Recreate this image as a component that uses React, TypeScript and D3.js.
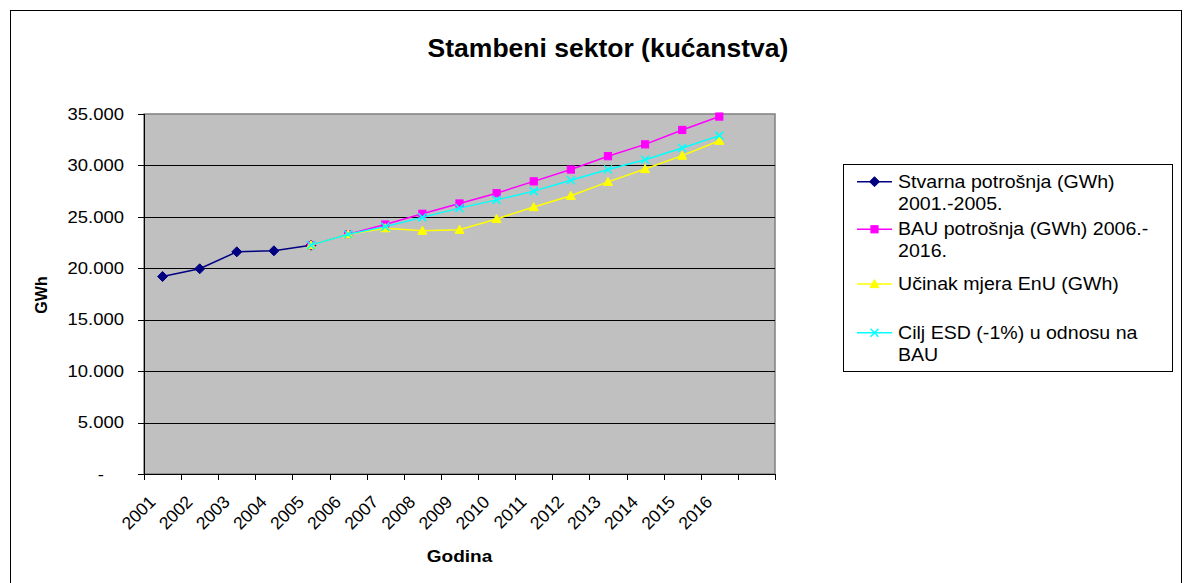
import React from 'react';
import * as d3 from 'd3';

const categories = ['2001','2002','2003','2004','2005','2006','2007','2008','2009','2010','2011','2012','2013','2014','2015','2016',''];
const stvarna = [19200, 19950, 21600, 21700, 22250, null, null, null, null, null, null, null, null, null, null, null, null];
const bau = [null, null, null, null, 22250, 23300, 24250, 25300, 26300, 27300, 28450, 29600, 30900, 32050, 33450, 34750, null];
const ucinak = [null, null, null, null, 22250, 23300, 23900, 23650, 23750, 24800, 25950, 27050, 28400, 29650, 30950, 32400, null];
const cilj = [null, null, null, null, 22250, 23300, 24050, 24950, 25850, 26650, 27500, 28550, 29600, 30550, 31700, 32900, null];
const yTicks = [0, 5000, 10000, 15000, 20000, 25000, 30000, 35000];
const yTickLabels = ['-', '5.000', '10.000', '15.000', '20.000', '25.000', '30.000', '35.000'];
const seriesNames = [
  ['Stvarna potrošnja (GWh)', '2001.-2005.'],
  ['BAU potrošnja (GWh) 2006.-', '2016.'],
  ['Učinak mjera EnU (GWh)'],
  ['Cilj ESD (-1%) u odnosu na', 'BAU'],
];

const FONT = '"Liberation Sans", Arial, sans-serif';
const SX = 1.12;

function marker(kind: string, color: string, cx: number, cy: number, key: string) {
  if (kind === 'diamond') {
    const r = 5;
    return <path key={key} d={`M${cx},${cy - r}L${cx + r},${cy}L${cx},${cy + r}L${cx - r},${cy}Z`} fill={color} stroke={color} strokeWidth={1} />;
  }
  if (kind === 'square') {
    const r = 3.6;
    return <rect key={key} x={cx - r} y={cy - r} width={2 * r} height={2 * r} fill={color} stroke={color} strokeWidth={1} />;
  }
  if (kind === 'triangle') {
    const r = 4.5;
    return <path key={key} d={`M${cx},${cy - r}L${cx + r},${cy + r * 0.8}L${cx - r},${cy + r * 0.8}Z`} fill={color} stroke={color} strokeWidth={1} />;
  }
  const r = 4;
  return <path key={key} d={`M${cx - r},${cy - r}L${cx + r},${cy + r}M${cx - r},${cy + r}L${cx + r},${cy - r}`} fill="none" stroke={color} strokeWidth={1.5} />;
}

export default function App() {
  const left = 144, right = 775, top = 114, bottom = 474;
  const x = d3.scaleBand<number>().domain(categories.map((_, i) => i)).range([left, right]).paddingInner(0).paddingOuter(0);
  const y = d3.scaleLinear().domain([0, 35000]).range([bottom, top]);
  const cx = (i: number) => (x(i) as number) + x.bandwidth() / 2;

  const series = [
    { data: stvarna, color: '#000080', kind: 'diamond' },
    { data: bau, color: '#FF00FF', kind: 'square' },
    { data: ucinak, color: '#FFFF00', kind: 'triangle' },
    { data: cilj, color: '#00FFFF', kind: 'x' },
  ];

  const line = d3.line<number | null>()
    .defined((d) => d != null)
    .x((_, i) => cx(i))
    .y((d) => y(d as number));

  const boundaries = categories.map((_, i) => x(i) as number).concat([right]);

  const legendX = 843, legendY = 164, legendW = 329, legendH = 207;
  const legendRows = [181.7, 229.3, 284, 332.7];

  return (
    <svg width={1192} height={583} style={{ position: 'absolute', left: 0, top: 0, fontFamily: FONT }}>
      <rect x={0} y={0} width={1192} height={583} fill="#ffffff" />
      <rect x={10.5} y={10.5} width={1171} height={620} fill="none" stroke="#000" strokeWidth={1} />
      <text x={608} y={57} textAnchor="middle" fontSize={26.5} fontWeight="bold" fill="#000">Stambeni sektor (kućanstva)</text>

      {/* plot area */}
      <rect x={left} y={top} width={right - left} height={bottom - top} fill="#C0C0C0" stroke="#808080" strokeWidth={1.5} />
      {yTicks.filter((t) => t > 0 && t < 35000).map((t) => (
        <line key={'g' + t} x1={left} x2={right} y1={Math.round(y(t)) + 0.5} y2={Math.round(y(t)) + 0.5} stroke="#000" strokeWidth={1} />
      ))}
      {/* axes */}
      <line x1={left + 0.5} x2={left + 0.5} y1={top} y2={bottom} stroke="#000" strokeWidth={1} />
      <line x1={left} x2={right} y1={bottom + 0.5} y2={bottom + 0.5} stroke="#000" strokeWidth={1} />
      {yTicks.map((t, i) => (
        <g key={'yt' + t}>
          <line x1={left - 6} x2={left} y1={Math.round(y(t)) + 0.5} y2={Math.round(y(t)) + 0.5} stroke="#000" />
          <text transform={`translate(${t === 0 ? 104 : 124},${y(t)}) scale(${SX},1)`} dy="0.35em" textAnchor="end" fontSize={16.5} fill="#000">{yTickLabels[i]}</text>
        </g>
      ))}
      {boundaries.map((b, i) => (
        <line key={'xt' + i} x1={Math.round(b) + 0.5} x2={Math.round(b) + 0.5} y1={bottom} y2={bottom + 6} stroke="#000" />
      ))}
      {categories.map((c, i) => c ? (
        <text key={'xl' + i} transform={`translate(${cx(i) - 6},${503}) rotate(-45)`} textAnchor="end" fontSize={17.5} fill="#000">{c}</text>
      ) : null)}

      <text transform={`translate(459.5,562) scale(${SX},1)`} textAnchor="middle" fontSize={17} fontWeight="bold" fill="#000">Godina</text>
      <text transform={`translate(47,295) rotate(-90)`} textAnchor="middle" fontSize={16} fontWeight="bold" fill="#000">GWh</text>

      {/* series */}
      {series.map((s, si) => (
        <g key={'s' + si}>
          <path d={line(s.data) || ''} fill="none" stroke={s.color} strokeWidth={1.5} />
          {s.data.map((d, i) => d != null ? marker(s.kind, s.color, cx(i), y(d), `m${si}-${i}`) : null)}
        </g>
      ))}

      {/* legend */}
      <rect x={legendX + 0.5} y={legendY + 0.5} width={legendW} height={legendH} fill="#fff" stroke="#000" strokeWidth={1} />
      {series.map((s, si) => (
        <g key={'l' + si}>
          <line x1={857} x2={892} y1={legendRows[si]} y2={legendRows[si]} stroke={s.color} strokeWidth={1.5} />
          {marker(s.kind, s.color, 874.5, legendRows[si], 'lm' + si)}
          <text transform={`translate(898,${legendRows[si]}) scale(${SX},1)`} fontSize={17.5} fill="#000">
            {seriesNames[si].map((t, ti) => (
              <tspan key={ti} x={0} dy={ti === 0 ? '0.35em' : 21.7}>{t}</tspan>
            ))}
          </text>
        </g>
      ))}
    </svg>
  );
}
